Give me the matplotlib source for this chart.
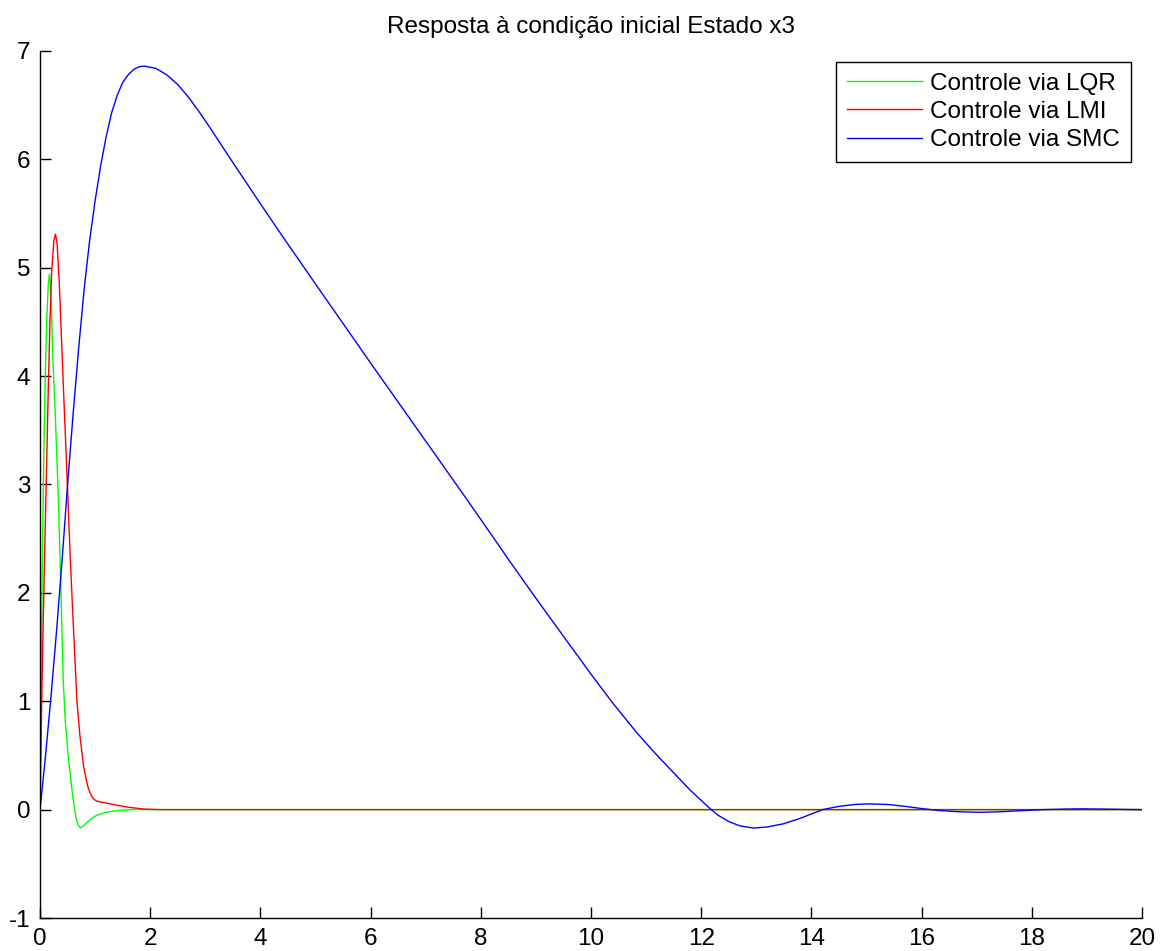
import matplotlib
import matplotlib.pyplot as plt

matplotlib.use("Agg")

plt.rcParams["font.family"] = ["Liberation Sans", "DejaVu Sans"]
plt.rcParams["axes.unicode_minus"] = False

# Estado x3 - LQR
t_lqr = [0, 0.02, 0.04, 0.06, 0.09, 0.12, 0.15, 0.17, 0.19, 0.21, 0.23, 0.28,
         0.33, 0.37, 0.42, 0.46, 0.51, 0.57, 0.60, 0.63, 0.66, 0.69, 0.72,
         0.75, 0.78, 0.82, 0.87, 0.93, 1.0, 1.1, 1.2, 1.35, 1.5, 1.7, 2.0, 20]
x3_lqr = [0, 1.2, 2.2, 3.0, 3.9, 4.5, 4.85, 4.94, 4.85, 4.6, 4.2, 3.6,
          2.9, 2.2, 1.2, 0.8, 0.5, 0.22, 0.1, 0.0, -0.09, -0.14, -0.162,
          -0.165, -0.155, -0.135, -0.11, -0.085, -0.06, -0.04, -0.025,
          -0.012, -0.005, 0, 0, 0]

# Estado x3 - LMI
t_lmi = [0, 0.03, 0.06, 0.09, 0.12, 0.15, 0.18, 0.21, 0.25, 0.28, 0.31, 0.35,
         0.38, 0.42, 0.46, 0.50, 0.55, 0.60, 0.67, 0.72, 0.79, 0.84, 0.88,
         0.93, 0.97, 1.02, 1.1, 1.21, 1.4, 1.63, 1.9, 2.2, 20]
x3_lmi = [0, 1.0, 1.8, 2.5, 3.2, 3.9, 4.5, 4.95, 5.25, 5.31, 5.22, 4.85,
          4.47, 3.95, 3.45, 2.95, 2.3, 1.75, 1.0, 0.7, 0.4, 0.27, 0.19,
          0.13, 0.10, 0.08, 0.07, 0.06, 0.04, 0.02, 0.005, 0, 0]

# Estado x3 - SMC
t_smc = [0, 0.1, 0.2, 0.3, 0.4, 0.5, 0.6, 0.7, 0.8, 0.9, 1.0, 1.1, 1.2, 1.3,
         1.4, 1.5, 1.6, 1.7, 1.8, 1.9, 2.1, 2.3, 2.5, 2.7, 2.9, 3.1, 3.5,
         4.0, 4.36, 5.0, 6.0, 7.0, 7.75, 8.5, 9.0, 9.67, 10.0, 10.4, 10.83,
         11.2, 11.5, 11.8, 12.0, 12.16, 12.3, 12.5, 12.7, 12.95, 13.2, 13.5,
         13.8, 14.2, 14.5, 14.8, 15.06, 15.4, 15.7, 16.0, 16.3, 16.7, 17.06,
         17.4, 17.8, 18.2, 18.6, 18.9, 19.3, 19.7, 20]
x3_smc = [0, 0.5, 1.05, 1.65, 2.3, 3.0, 3.65, 4.25, 4.8, 5.25, 5.62, 5.94,
          6.21, 6.43, 6.59, 6.71, 6.78, 6.83, 6.855, 6.86, 6.84, 6.78, 6.69,
          6.57, 6.43, 6.28, 5.97, 5.59, 5.32, 4.85, 4.12, 3.40, 2.86, 2.31,
          1.95, 1.48, 1.25, 0.98, 0.71, 0.50, 0.34, 0.18, 0.085, 0.01,
          -0.05, -0.11, -0.15, -0.17, -0.16, -0.13, -0.08, 0, 0.03, 0.048,
          0.053, 0.047, 0.03, 0.01, -0.008, -0.02, -0.025, -0.02, -0.01, 0,
          0.005, 0.007, 0.005, 0.002, 0]

labels = ["Controle via LQR", "Controle via LMI", "Controle via SMC"]

fig = plt.figure(figsize=(11.64, 9.51), dpi=100)
ax = fig.add_axes([0.0344, 0.0347, 0.9467, 0.9117])

ax.plot(t_lqr, x3_lqr, color="#00ff00", lw=1.0, label=labels[0])
ax.plot(t_lmi, x3_lmi, color="#ff0000", lw=1.0, label=labels[1])
ax.plot(t_smc, x3_smc, color="#0000ff", lw=1.0, label=labels[2])

ax.set_xlim(0, 20)
ax.set_ylim(-1, 7)
ax.set_xticks(range(0, 21, 2))
ax.set_yticks(range(-1, 8))
ax.spines["top"].set_visible(False)
ax.spines["right"].set_visible(False)
for s in ("left", "bottom"):
    ax.spines[s].set_linewidth(1.0)
ax.tick_params(direction="in", length=7.7, width=1.0, labelsize=17.5, pad=7)

ax.set_title("Resposta à condição inicial Estado x3", fontsize=17.5, pad=13)

leg = ax.legend(loc="upper right", fontsize=17.5, fancybox=False,
                edgecolor="black", framealpha=1, handlelength=3.1,
                handletextpad=0.33, labelspacing=0.25, borderpad=0.45,
                borderaxespad=0.45)
leg.get_frame().set_linewidth(1.0)

fig.savefig("out.png", dpi=100)
